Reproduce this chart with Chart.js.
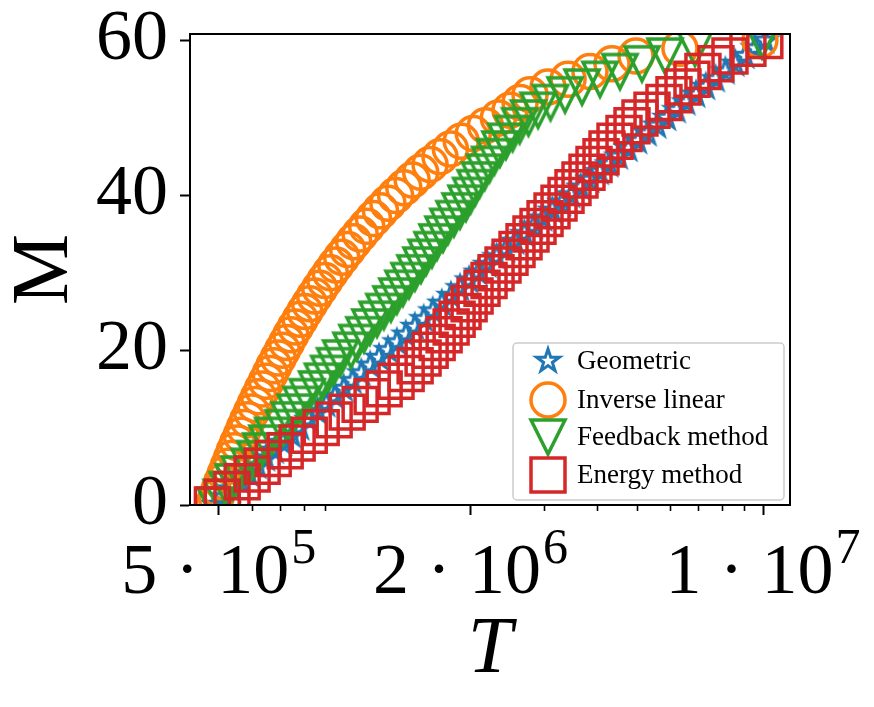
<!DOCTYPE html>
<html>
<head>
<meta charset="utf-8">
<script src="https://cdn.jsdelivr.net/npm/chart.js@4.4.1/dist/chart.umd.min.js"></script>
<style>
  html, body { margin: 0; padding: 0; background: #fff; }
  #wrap { width: 874px; height: 707px; }
</style>
</head>
<body>
<div id="wrap"><canvas id="chart" width="874" height="707"></canvas></div>
<script>
// step index (y axis)
const mSteps = [0, 1, 2, 3, 4, 5, 6, 7, 8, 9, 10, 11, 12, 13, 14, 15, 16, 17, 18, 19, 20,
  21, 22, 23, 24, 25, 26, 27, 28, 29, 30, 31, 32, 33, 34, 35, 36, 37, 38, 39, 40,
  41, 42, 43, 44, 45, 46, 47, 48, 49, 50, 51, 52, 53, 54, 55, 56, 57, 58, 59, 60];

// temperature per step
const tGeometric = [4.90e5, 5.14e5, 5.38e5, 5.64e5, 5.90e5, 6.19e5, 6.48e5, 6.80e5, 7.12e5, 7.47e5,
  7.83e5, 8.21e5, 8.62e5, 9.04e5, 9.48e5, 9.95e5, 1.044e6, 1.096e6, 1.151e6, 1.208e6,
  1.269e6, 1.333e6, 1.400e6, 1.471e6, 1.545e6, 1.624e6, 1.707e6, 1.795e6, 1.887e6, 1.984e6,
  2.086e6, 2.194e6, 2.308e6, 2.428e6, 2.555e6, 2.689e6, 2.830e6, 2.980e6, 3.137e6, 3.304e6,
  3.479e6, 3.665e6, 3.861e6, 4.068e6, 4.287e6, 4.518e6, 4.763e6, 5.021e6, 5.294e6, 5.583e6,
  5.889e6, 6.212e6, 6.553e6, 6.914e6, 7.297e6, 7.701e6, 8.128e6, 8.582e6, 9.062e6, 9.570e6, 1.011e7];

const tInverseLinear = [4.85e5, 4.93e5, 5.01e5, 5.09e5, 5.18e5, 5.27e5, 5.36e5, 5.45e5, 5.55e5, 5.66e5,
  5.76e5, 5.87e5, 5.99e5, 6.11e5, 6.23e5, 6.36e5, 6.50e5, 6.64e5, 6.78e5, 6.94e5,
  7.10e5, 7.27e5, 7.44e5, 7.63e5, 7.83e5, 8.03e5, 8.25e5, 8.48e5, 8.72e5, 8.97e5,
  9.24e5, 9.53e5, 9.84e5, 1.017e6, 1.051e6, 1.089e6, 1.129e6, 1.172e6, 1.218e6, 1.269e6,
  1.324e6, 1.385e6, 1.45e6, 1.52e6, 1.60e6, 1.69e6, 1.79e6, 1.90e6, 2.03e6, 2.17e6,
  2.33e6, 2.485e6, 2.626e6, 2.774e6, 3.063e6, 3.420e6, 3.858e6, 4.355e6, 4.971e6, 6.33e6, 9.83e6];

const tFeedback = [4.90e5, 5.07e5, 5.24e5, 5.41e5, 5.60e5, 5.91e5, 6.10e5, 6.30e5, 6.52e5, 6.73e5,
  7.13e5, 7.37e5, 7.62e5, 7.87e5, 8.14e5, 8.57e5, 8.85e5, 9.16e5, 9.46e5, 9.78e5,
  1.035e6, 1.070e6, 1.112e6, 1.149e6, 1.195e6, 1.241e6, 1.290e6, 1.333e6, 1.378e6, 1.425e6,
  1.472e6, 1.522e6, 1.565e6, 1.617e6, 1.662e6, 1.718e6, 1.765e6, 1.825e6, 1.887e6, 1.950e6,
  2.00e6, 2.05e6, 2.10e6, 2.16e6, 2.22e6, 2.28e6, 2.35e6, 2.43e6, 2.52e6, 2.62e6,
  2.75e6, 2.90e6, 3.105e6, 3.363e6, 3.693e6, 4.077e6, 4.551e6, 5.137e6, 5.831e6, 6.876e6, 9.94e6];

const tEnergy = [4.83e5, 5.10e5, 5.38e5, 5.69e5, 6.01e5, 6.35e5, 6.75e5, 7.21e5, 7.70e5, 8.23e5,
  8.79e5, 9.44e5, 1.014e6, 1.089e6, 1.163e6, 1.243e6, 1.327e6, 1.403e6, 1.474e6, 1.540e6,
  1.601e6, 1.664e6, 1.729e6, 1.797e6, 1.857e6, 1.919e6, 1.984e6, 2.050e6, 2.130e6, 2.214e6,
  2.301e6, 2.391e6, 2.485e6, 2.582e6, 2.684e6, 2.789e6, 2.899e6, 3.013e6, 3.131e6, 3.254e6,
  3.382e6, 3.514e6, 3.652e6, 3.796e6, 3.945e6, 4.100e6, 4.237e6, 4.428e6, 4.653e6, 4.862e6,
  5.081e6, 5.428e6, 5.798e6, 6.126e6, 6.437e6, 6.763e6, 7.184e6, 7.718e6, 8.337e6, 9.203e6, 1.010e7];

const seriesLabels = ['Geometric', 'Inverse linear', 'Feedback method', 'Energy method'];

// axis ticks
const xMajorTicks = [5e5, 2e6, 1e7];
const xTickMantissa = ['5', '2', '1'];
const xTickExponent = ['5', '6', '7'];
const xMinorTicks = [6e5, 7e5, 8e5, 9e5, 3e6, 4e6, 5e6, 6e6, 7e6, 8e6, 9e6];
const yTicks = [0, 20, 40, 60];

const SERIF = '"Liberation Serif", "DejaVu Serif", serif';
const COLORS = ['#1f77b4', '#ff7f0e', '#2ca02c', '#d62728'];

function makeMarker(size, draw) {
  const c = document.createElement('canvas');
  c.width = size; c.height = size;
  const g = c.getContext('2d');
  g.translate(size / 2, size / 2);
  draw(g);
  return c;
}

// matplotlib '*' and 'v' do not exist in Chart.js, so paint them once
const starMarker = makeMarker(36, g => {
  g.beginPath();
  for (let i = 0; i < 10; i++) {
    const r = i % 2 ? 4.6 : 12;
    const a = -Math.PI / 2 + i * Math.PI / 5;
    g.lineTo(r * Math.cos(a), r * Math.sin(a));
  }
  g.closePath();
  g.lineWidth = 3; g.strokeStyle = COLORS[0]; g.lineJoin = 'miter';
  g.stroke();
});
const triDownMarker = makeMarker(48, g => {
  g.beginPath();
  g.moveTo(-17, -17); g.lineTo(17, -17); g.lineTo(0, 17); g.closePath();
  g.lineWidth = 3.5; g.strokeStyle = COLORS[2]; g.lineJoin = 'miter';
  g.stroke();
});

const series = [
  { t: tGeometric, style: starMarker, radius: 12, order: 4 },
  { t: tInverseLinear, style: 'circle', radius: 17, order: 3 },
  { t: tFeedback, style: triDownMarker, radius: 17, order: 2 },
  { t: tEnergy, style: 'rect', radius: 24, order: 1 },
];

const frame = {
  id: 'frame',
  afterDraw(chart) {
    const { ctx, chartArea: a, scales } = chart;
    ctx.save();
    ctx.strokeStyle = '#000';
    ctx.lineWidth = 2;
    ctx.strokeRect(a.left, a.top, a.right - a.left, a.bottom - a.top);

    // minor ticks on the log axis
    ctx.lineWidth = 1.6;
    ctx.beginPath();
    xMinorTicks.forEach(v => {
      const px = Math.round(scales.x.getPixelForValue(v)) + 0.5;
      ctx.moveTo(px, a.bottom);
      ctx.lineTo(px, a.bottom + 6);
    });
    ctx.stroke();

    // "m · 10^e" labels
    ctx.fillStyle = '#000';
    ctx.textBaseline = 'alphabetic';
    ctx.textAlign = 'left';
    xMajorTicks.forEach((v, i) => {
      const px = scales.x.getPixelForValue(v);
      const main = xTickMantissa[i] + ' \u00b7 10';
      ctx.font = '72px ' + SERIF;
      const wMain = ctx.measureText(main).width;
      ctx.font = '50px ' + SERIF;
      const wSup = ctx.measureText(xTickExponent[i]).width;
      const x0 = px - (wMain + wSup + 2) / 2;
      ctx.font = '72px ' + SERIF;
      ctx.fillText(main, x0, a.bottom + 88);
      ctx.font = '50px ' + SERIF;
      ctx.fillText(xTickExponent[i], x0 + wMain + 2, a.bottom + 58);
    });
    ctx.restore();
  }
};

const legendBox = {
  id: 'legendBox',
  afterDraw(chart) {
    const { ctx, chartArea: a } = chart;
    const w = 271, h = 157;
    const left = a.right - w - 6, top = a.bottom - h - 5;
    ctx.save();
    ctx.beginPath();
    ctx.roundRect(left, top, w, h, 4);
    ctx.fillStyle = 'rgba(255,255,255,0.85)';
    ctx.fill();
    ctx.strokeStyle = '#cccccc';
    ctx.lineWidth = 1.5;
    ctx.stroke();

    const rows = [18, 57, 94, 132];
    const mx = left + 35;
    series.forEach((s, i) => {
      const y = top + rows[i];
      ctx.strokeStyle = COLORS[i];
      ctx.lineWidth = 3.5;
      if (s.style === 'circle') {
        ctx.beginPath(); ctx.arc(mx, y, 17, 0, Math.PI * 2); ctx.stroke();
      } else if (s.style === 'rect') {
        ctx.strokeRect(mx - 17, y - 17, 34, 34);
      } else {
        ctx.drawImage(s.style, mx - s.style.width / 2, y - s.style.height / 2);
      }
      ctx.fillStyle = '#000';
      ctx.font = '27px ' + SERIF;
      ctx.textBaseline = 'middle';
      ctx.fillText(seriesLabels[i], left + 64, y + 1);
    });
    ctx.restore();
  }
};

new Chart(document.getElementById('chart'), {
  type: 'scatter',
  data: {
    datasets: series.map((s, i) => ({
      label: seriesLabels[i],
      data: mSteps.map((m, k) => ({ x: s.t[k], y: m })),
      showLine: false,
      pointStyle: s.style,
      pointRadius: s.radius,
      pointHoverRadius: s.radius,
      pointBorderWidth: 3.5,
      pointBorderColor: COLORS[i],
      pointBackgroundColor: 'rgba(0,0,0,0)',
      borderColor: COLORS[i],
      order: s.order,
      clip: 0,
    }))
  },
  options: {
    responsive: false,
    animation: false,
    events: [],
    layout: { padding: { top: 34, right: 84, left: 0, bottom: 0 } },
    plugins: { legend: { display: false }, tooltip: { enabled: false } },
    scales: {
      x: {
        type: 'logarithmic',
        min: 4.27e5,
        max: 1.16e7,
        afterBuildTicks: s => { s.ticks = xMajorTicks.map(v => ({ value: v })); },
        afterFit: s => { s.height = 202; },
        grid: { drawOnChartArea: false, drawTicks: true, tickLength: 10, tickWidth: 2, tickColor: '#000' },
        border: { display: true, color: '#000', width: 2 },
        ticks: { display: false },
        title: {
          display: true, text: 'T', color: '#000',
          font: { family: SERIF, size: 80, style: 'italic', lineHeight: 1 },
          padding: { top: 0, bottom: 16 }
        }
      },
      y: {
        min: 0,
        max: 60.85,
        afterBuildTicks: s => { s.ticks = yTicks.map(v => ({ value: v })); },
        afterFit: s => { s.width = 190; s.paddingTop = 0; s.paddingBottom = 0; },
        grid: { drawOnChartArea: false, drawTicks: true, tickLength: 10, tickWidth: 2, tickColor: '#000' },
        border: { display: true, color: '#000', width: 2 },
        ticks: { color: '#000', padding: 12, font: { family: SERIF, size: 72, lineHeight: 0.6 } },
        title: {
          display: true, text: 'M', color: '#000',
          font: { family: SERIF, size: 80, lineHeight: 1 },
          padding: { top: 6, bottom: 0 }
        }
      }
    }
  },
  plugins: [frame, legendBox]
});
</script>
</body>
</html>
